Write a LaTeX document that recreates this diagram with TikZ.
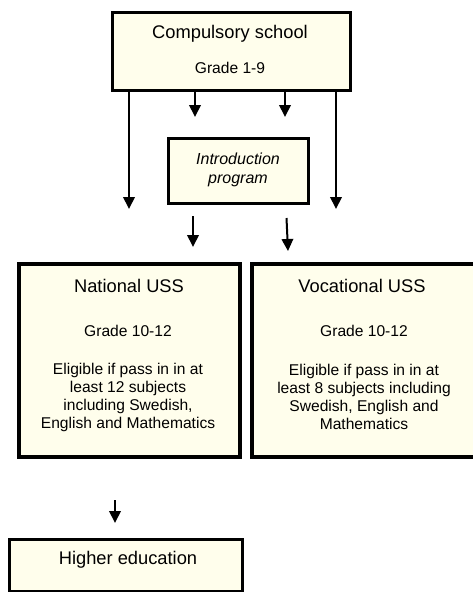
\documentclass[tikz,border=0pt]{standalone}
\usepackage{fontspec}
\setmainfont{Liberation Sans}
\usetikzlibrary{arrows.meta}
\definecolor{cream}{RGB}{255,254,236}
\begin{document}
\begin{tikzpicture}[x=1pt,y=-1pt,
  box/.style={draw=black,fill=cream,line width=3pt,inner sep=0pt},
  bigbox/.style={draw=black,fill=cream,line width=3.4pt,inner sep=0pt},
  title/.style={inner sep=0pt,font=\fontsize{18.3}{21}\selectfont},
  small/.style={inner sep=0pt,align=center,font=\fontsize{15.6}{18}\selectfont},
  arr/.style={line width=2pt,-{Triangle[width=11.5pt,length=12pt]}}
]
\useasboundingbox (0,0) rectangle (473,592);
% boxes
\node[box,minimum width=238pt,minimum height=78pt] (comp) at (231,51) {};
\node[box,minimum width=140pt,minimum height=65pt] (intro) at (238,170.5) {};
\node[bigbox,minimum width=221pt,minimum height=193pt] (nat) at (129.5,360.5) {};
\node[bigbox,minimum width=224pt,minimum height=193pt] (voc) at (364,360.5) {};
\node[box,minimum width=233pt,minimum height=52pt] (high) at (125.5,565) {};
% texts
\node[title] (comptitle) at (230,33.5) {Compulsory school};
\node[small] (compgrade) at (230,68) {Grade 1-9};
\node[small,font=\fontsize{16}{19.5}\selectfont\itshape] (introtext) at (238,170) {Introduction\\program};
\node[title] (nattitle) at (129,286) {National USS};
\node[small] (natgrade) at (128,331) {Grade 10-12};
\node[small] (nattext) at (128,397) {Eligible if pass in in at\\least 12 subjects\\including Swedish,\\English and Mathematics};
\node[title] (voctitle) at (362,286) {Vocational USS};
\node[small] (vocgrade) at (364,331) {Grade 10-12};
\node[small] (voctext) at (364,397) {Eligible if pass in in at\\least 8 subjects including\\Swedish, English and\\Mathematics};
\node[title] (hightext) at (128,560) {Higher education};
% free arrow ends
\coordinate (a1e) at (195,117);
\coordinate (a2e) at (285,117);
\coordinate (l1e) at (129,209);
\coordinate (l2e) at (336,209);
\coordinate (b1s) at (193,216);
\coordinate (b1e) at (193,247);
\coordinate (b2s) at (286.5,218);
\coordinate (b2e) at (288,251);
\coordinate (c1s) at (115,500);
\coordinate (c1e) at (115,523);
% connectors
\draw[arr] (comp.south -| a1e) -- (a1e);
\draw[arr] (comp.south -| a2e) -- (a2e);
\draw[arr] (comp.south -| l1e) -- (l1e);
\draw[arr] (comp.south -| l2e) -- (l2e);
\draw[arr] (b1s) -- (b1e);
\draw[arr] (b2s) -- (b2e);
\draw[arr] (c1s) -- (c1e);
\end{tikzpicture}
\end{document}
